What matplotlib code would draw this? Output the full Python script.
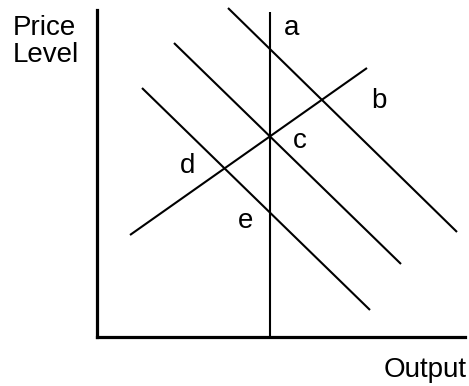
import matplotlib
matplotlib.use("Agg")
import matplotlib.pyplot as plt

plt.rcParams['font.family'] = ['Liberation Sans', 'DejaVu Sans']

# Diagram geometry (output on x, price level on y), origin at the axes corner
axis_x_end = 368
axis_y_end = 327

lras_q = [173, 173]
lras_p = [0, 325]

ad_upper_q = [131, 360]
ad_upper_p = [329, 105]
ad_middle_q = [77, 304]
ad_middle_p = [294, 73]
ad_lower_q = [45, 273]
ad_lower_p = [249, 27]

sras_q = [33, 270]
sras_p = [102, 269]

point_labels = ["a", "b", "c", "d", "e"]
label_q = [187, 274, 196, 83, 141]
label_p = [302, 229, 189, 164, 109]

y_title = ["Price", "Level"]
x_title = "Output"

fig = plt.figure(figsize=(4.69, 3.86), dpi=100)
ax = fig.add_axes([0, 0, 1, 1])
ax.set_xlim(-97, 372)
ax.set_ylim(-49, 337)
ax.axis("off")

lw_axis = 2.3
lw_line = 1.5
ax.plot([0, axis_x_end], [0, 0], color="black", lw=lw_axis, solid_capstyle="projecting")
ax.plot([0, 0], [0, axis_y_end], color="black", lw=lw_axis, solid_capstyle="projecting")

for q, p in [(lras_q, lras_p), (ad_upper_q, ad_upper_p), (ad_middle_q, ad_middle_p),
             (ad_lower_q, ad_lower_p), (sras_q, sras_p)]:
    ax.plot(q, p, color="black", lw=lw_line, solid_capstyle="butt")

fs = 20
for lab, q, p in zip(point_labels, label_q, label_p):
    ax.text(q, p, lab, fontsize=fs, ha="left", va="baseline")

ax.text(-84, 302, y_title[0], fontsize=fs, ha="left", va="baseline")
ax.text(-84, 275, y_title[1], fontsize=fs, ha="left", va="baseline")
ax.text(287, -40, x_title, fontsize=fs, ha="left", va="baseline")

fig.savefig("out.png", dpi=100)
